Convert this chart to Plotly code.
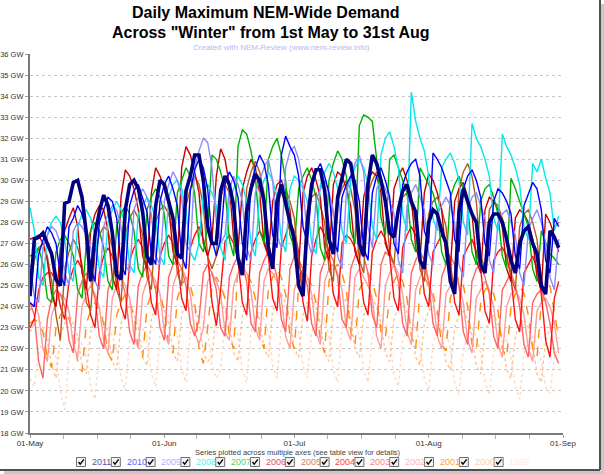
import plotly.graph_objects as go
import pandas as pd

years = ["2011", "2010", "2009", "2008", "2007", "2006", "2005", "2004", "2003", "2002", "2001", "2000", "1999"]

y2011 = [24.5,
 27.2,27.3,27.5,27.0,26.5,25.3,25.0,
 28.9,29.0,29.9,30.0,29.2,27.5,25.2,
 27.4,28.5,29.3,28.8,27.5,25.5,25.3,
 28.6,29.8,30.0,29.6,28.5,26.4,26.0,
 28.8,30.0,29.8,29.0,28.2,26.5,26.3,
 29.5,30.2,31.2,31.2,30.0,27.8,27.0,
 27.0,29.5,30.2,29.8,28.8,26.3,25.5,
 28.5,29.6,30.3,30.0,29.0,26.8,25.8,
 29.0,29.8,28.8,28.0,27.2,25.0,24.5,
 28.0,29.8,30.5,30.5,29.5,27.2,26.5,
 29.2,30.2,31.0,30.8,29.6,27.0,26.4,
 29.8,31.2,30.8,30.0,29.0,27.5,27.3,
 28.6,29.5,29.8,29.0,28.5,26.2,25.8,
 28.0,28.6,28.4,27.6,27.0,25.2,24.6,
 28.5,29.6,29.0,28.4,28.0,26.0,25.6,
 28.0,28.4,28.4,28.0,27.2,26.2,25.6,
 27.0,27.6,27.8,27.0,26.5,25.0,24.6,
 27.6,27.3,26.8]

y2010 = [24.2,24.0,
 26.5,27.2,27.8,27.5,27.0,25.5,25.0,
 27.8,28.2,28.8,28.4,27.6,25.8,25.2,
 28.0,28.6,29.2,29.0,28.2,26.0,25.5,
 28.8,29.5,29.8,29.2,28.5,26.5,26.0,
 29.0,29.8,30.2,29.6,28.8,26.4,25.8,
 29.5,30.5,31.0,30.6,29.6,27.2,26.4,
 27.2,29.8,30.4,30.0,29.2,27.0,26.2,
 29.8,30.6,31.2,30.8,29.8,27.4,26.8,
 31.2,32.1,31.6,31.2,30.2,27.8,27.0,
 29.6,30.4,30.8,30.2,29.4,27.2,26.6,
 29.2,29.8,30.2,30.0,29.0,26.8,26.2,
 29.4,30.2,30.6,30.0,29.2,27.0,26.5,
 29.8,30.4,30.8,31.0,30.2,27.6,27.0,
 31.3,31.0,30.6,30.0,29.4,27.2,26.6,
 29.6,30.2,30.5,30.0,29.2,27.0,26.4,
 29.0,29.6,29.4,29.0,28.4,26.4,25.8,
 28.8,29.4,29.9,29.6,28.6,26.2,25.6,
 28.2,27.8]

y2009 = [26.0,24.5,24.2,
 26.8,27.4,27.8,27.6,27.0,25.6,25.0,
 27.6,28.0,27.8,27.4,26.8,25.2,24.8,
 27.8,28.4,28.8,28.6,27.8,26.0,25.6,
 28.6,29.2,29.6,29.2,28.4,26.4,26.0,
 29.0,29.8,30.4,30.0,29.2,27.0,26.6,
 30.6,31.4,32.0,31.8,30.6,28.0,27.0,
 27.4,29.6,30.2,29.8,29.0,26.8,26.2,
 29.4,30.0,30.6,31.0,30.0,27.4,26.8,
 30.6,31.4,31.6,31.0,29.8,27.2,26.5,
 29.0,29.6,30.0,29.4,28.6,26.4,25.8,
 29.4,30.2,30.8,31.2,30.4,27.8,26.8,
 29.6,30.0,29.6,29.0,28.4,26.2,25.6,
 28.8,29.4,29.8,29.2,28.6,26.5,26.0,
 28.4,28.8,29.2,28.8,28.0,26.0,25.4,
 28.6,29.2,29.4,28.8,28.2,26.2,25.6,
 28.0,28.4,28.6,28.0,27.4,25.6,25.0,
 27.6,28.2,28.6,28.0,27.0,25.4,24.8,
 27.2]

y2008 = [28.7,27.6,25.4,25.0,
 27.4,28.0,28.3,28.0,27.2,25.6,25.2,
 27.8,28.4,28.6,28.2,27.4,25.8,25.4,
 28.0,28.6,29.0,28.6,27.8,26.0,25.6,
 28.4,28.8,29.2,28.8,28.2,26.4,26.0,
 29.2,29.8,30.0,29.6,28.6,26.6,26.2,
 27.0,29.4,29.8,29.4,28.8,26.8,26.2,
 29.0,29.6,30.2,29.8,29.0,27.0,26.4,
 29.4,30.0,30.4,30.0,29.2,27.2,26.6,
 29.6,30.2,30.0,29.6,29.0,27.0,26.5,
 29.8,30.4,30.8,30.4,29.6,27.6,27.0,
 30.0,30.6,31.0,30.6,29.8,27.8,27.2,
 31.2,32.0,32.3,31.6,30.6,28.4,27.6,
 34.2,32.8,32.0,31.4,30.2,28.2,27.6,
 30.6,31.0,31.3,30.8,30.0,28.0,27.4,
 32.7,32.0,31.6,31.0,30.2,28.2,27.6,
 32.2,31.6,31.2,30.6,29.8,27.8,27.2,
 30.8,30.4,31.0,30.1,29.4,27.6,28.3]

y2007 = [26.4,26.5,26.8,26.0,24.4,24.2,
 26.6,27.2,27.4,27.0,26.4,24.8,24.4,
 27.0,27.6,28.0,27.6,26.8,25.2,24.8,
 27.8,28.4,28.8,28.4,27.6,25.8,25.4,
 28.6,29.2,29.6,29.2,28.4,26.4,26.0,
 29.4,30.0,30.6,30.2,29.4,27.0,26.6,
 27.8,31.2,31.0,30.4,29.6,27.2,26.4,
 31.6,32.4,32.2,31.4,30.2,27.6,27.0,
 31.0,31.6,32.0,31.2,30.0,27.4,26.8,
 29.6,30.2,30.6,30.0,29.2,26.8,26.2,
 30.0,30.8,31.4,31.0,30.2,27.6,27.0,
 32.6,33.1,33.0,32.8,31.0,28.2,27.4,
 31.0,31.2,30.6,30.0,29.4,27.2,26.6,
 30.6,30.2,29.8,29.4,28.6,26.6,26.0,
 29.2,29.8,30.2,29.6,28.8,26.6,26.0,
 29.0,29.6,29.8,29.2,28.4,26.4,25.8,
 30.1,29.6,29.0,28.4,27.8,25.8,25.2,
 27.6,27.0,26.5,26.3,26.0]

y2006 = [27.2,27.3,27.4,27.0,26.2,24.6,24.0,
 26.8,27.6,28.2,28.7,27.8,25.6,24.8,
 27.6,28.4,28.8,28.6,27.6,25.4,24.8,
 29.2,30.5,30.2,29.6,28.6,26.4,25.8,
 29.4,30.6,30.2,29.6,28.8,26.6,26.0,
 30.6,31.6,31.2,30.4,29.4,27.0,26.4,
 27.2,30.2,31.5,31.0,29.8,27.2,26.6,
 29.6,30.4,31.0,30.6,29.4,27.0,26.4,
 29.0,29.8,30.0,29.4,28.6,26.4,25.8,
 29.4,30.2,30.6,30.0,29.2,26.8,26.2,
 29.8,30.4,30.2,29.6,28.8,26.6,26.0,
 29.2,30.0,30.4,30.2,29.4,27.0,26.4,
 29.6,30.2,30.6,30.0,29.2,26.8,26.2,
 29.4,30.3,30.0,29.4,28.6,26.4,25.8,
 29.0,29.6,29.9,29.2,28.4,26.2,25.6,
 28.6,29.2,29.0,28.6,27.8,25.8,25.2,
 28.2,28.6,28.4,28.0,27.2,25.4,24.8,
 28.4,28.0,27.4,26.6]

y2005 = [24.8,
 26.2,26.8,27.0,26.4,25.2,23.6,22.4,
 25.8,26.6,27.2,26.8,26.0,24.2,23.8,
 26.6,27.4,27.8,27.6,26.8,24.8,24.2,
 27.4,28.2,28.6,28.2,27.4,25.4,24.8,
 28.0,28.6,28.8,28.4,27.6,25.6,25.0,
 28.8,29.6,30.2,29.8,28.8,26.4,25.8,
 26.4,29.2,29.8,29.4,28.6,26.2,25.6,
 29.6,30.4,30.9,30.4,29.4,27.0,26.2,
 28.8,29.4,29.6,29.0,28.2,26.0,25.4,
 28.6,29.2,29.4,28.8,28.0,25.8,25.2,
 29.0,29.6,30.0,29.6,28.6,26.2,25.6,
 29.4,30.0,30.4,30.0,29.0,26.6,26.0,
 28.6,29.2,29.4,28.8,28.0,25.8,25.2,
 28.4,29.0,29.2,28.6,27.8,25.6,25.0,
 29.6,30.4,30.8,30.2,29.0,26.4,25.8,
 28.6,29.0,28.8,28.2,27.4,25.4,24.8,
 27.8,28.4,28.6,28.0,27.2,25.2,24.6,
 27.4,27.8,28.0]

y2004 = [23.0,23.4,
 24.8,25.4,25.6,25.6,25.2,24.0,23.4,
 25.2,25.8,26.2,25.8,25.0,23.6,23.0,
 25.6,26.4,26.8,26.4,25.6,24.0,23.4,
 26.2,26.8,27.2,26.8,26.0,24.2,23.6,
 26.4,27.0,27.4,27.0,26.2,24.4,23.8,
 26.8,27.4,27.8,27.2,26.4,24.2,23.1,
 24.8,27.1,27.4,27.0,26.2,24.2,23.6,
 26.6,27.2,27.6,27.2,26.4,24.4,23.8,
 26.8,27.4,28.0,27.6,26.6,24.2,23.3,
 26.4,27.2,27.8,27.4,26.6,24.6,24.0,
 27.0,27.4,27.2,26.8,26.0,24.2,23.6,
 26.6,27.2,27.6,27.2,26.4,24.4,23.8,
 26.8,27.4,27.8,27.4,26.6,24.6,24.0,
 26.6,27.0,27.4,27.0,26.2,24.2,23.6,
 26.4,26.8,27.2,26.6,25.8,23.8,23.2,
 26.2,26.6,26.8,26.4,25.4,23.4,22.8,
 25.6,26.0,26.4,25.8,24.6,22.4,21.6,
 24.4,25.2]

y2003 = [24.2,23.6,21.4,20.6,
 23.4,24.4,24.8,24.6,24.0,22.4,21.8,
 24.6,25.2,25.6,25.2,24.4,22.6,22.0,
 24.8,25.4,25.8,25.4,24.6,22.8,22.2,
 25.0,25.6,26.0,25.6,24.8,23.0,22.4,
 25.4,26.0,26.2,25.8,25.0,23.2,22.6,
 23.4,25.6,26.0,25.6,24.8,23.0,22.6,
 25.4,26.0,26.4,26.0,25.2,23.2,22.8,
 25.6,26.2,26.6,26.2,25.4,23.4,22.8,
 25.8,26.4,26.2,25.8,25.0,23.2,22.6,
 25.6,26.2,26.6,26.2,25.4,23.4,23.0,
 25.8,26.4,26.8,26.4,25.6,23.6,23.0,
 26.0,26.6,26.4,26.0,25.2,23.2,22.6,
 25.6,26.2,26.6,26.2,25.2,23.2,22.6,
 25.4,26.0,26.4,26.0,25.0,22.8,22.2,
 25.2,25.8,26.0,25.4,24.6,22.6,22.0,
 24.8,25.2,25.6,25.0,24.0,22.2,21.6,
 24.2,24.6,24.8,24.2,23.2,21.8,21.3]

y2002 = [23.8,24.2,23.6,22.0,21.4,
 23.6,24.2,24.6,24.4,23.8,22.2,21.6,
 24.0,24.6,25.0,24.6,24.0,22.4,21.8,
 24.4,25.0,25.4,25.0,24.4,22.6,22.0,
 24.6,25.2,25.6,25.2,24.6,22.8,22.2,
 25.0,25.6,25.8,25.4,24.6,22.8,22.2,
 23.0,25.2,25.6,25.2,24.6,22.8,22.4,
 25.0,25.6,26.0,25.6,24.8,23.0,22.4,
 25.2,25.8,25.6,25.2,24.4,22.6,22.0,
 24.8,25.4,25.8,25.4,24.6,22.8,22.2,
 25.2,25.8,26.0,25.6,24.8,23.0,22.4,
 25.4,25.8,25.4,25.0,24.4,22.6,22.0,
 25.0,25.6,26.0,25.6,24.6,22.8,22.2,
 24.8,25.4,25.8,25.2,24.4,22.6,22.0,
 24.6,25.0,25.4,25.0,24.2,22.4,21.8,
 24.4,24.8,25.2,24.8,24.0,22.2,21.6,
 24.0,24.6,24.8,24.4,23.6,22.0,21.4,
 23.8,24.2,24.4,24.0,23.2,21.8]

y2001 = [23.2,23.4,23.2,22.8,21.6,21.1,
 23.0,23.6,23.8,23.4,22.8,21.4,20.9,
 23.2,23.8,24.2,23.8,23.2,21.8,21.4,
 23.6,24.2,24.6,24.2,23.6,22.0,21.6,
 24.0,24.6,25.0,24.6,23.8,22.2,21.8,
 24.4,25.0,25.4,25.0,24.2,22.0,21.3,
 23.0,25.0,25.4,25.0,24.4,22.6,22.0,
 26.1,25.8,25.6,25.2,24.4,22.6,22.0,
 24.8,25.4,25.8,25.4,24.6,22.6,22.0,
 25.0,25.6,25.4,25.0,24.2,22.4,21.8,
 25.2,25.8,26.0,25.6,24.8,22.8,22.2,
 24.8,25.2,25.6,25.2,24.4,22.8,22.5,
 24.6,25.2,25.6,25.2,24.4,22.6,22.0,
 24.8,25.4,25.0,24.6,23.8,22.2,21.9,
 24.4,25.0,25.4,25.0,24.0,22.2,21.9,
 24.2,24.8,25.0,24.6,23.8,22.0,21.6,
 24.0,24.6,25.0,24.6,23.6,22.0,21.6,
 24.2,24.8,25.0,23.8,22.5]

y2000 = [22.8,23.2,23.4,23.0,22.4,21.2,20.6,
 22.6,23.2,23.6,23.2,22.6,21.2,20.8,
 22.8,23.4,23.8,23.4,22.8,21.4,21.0,
 23.2,23.8,24.0,23.6,23.0,21.6,21.2,
 23.4,24.0,24.2,23.8,23.2,21.8,21.4,
 23.6,24.2,24.4,24.0,23.4,21.8,21.4,
 21.6,23.8,24.2,23.8,23.2,21.8,21.4,
 23.6,24.2,24.4,24.0,23.4,22.0,21.6,
 23.8,24.4,24.6,24.2,23.4,22.0,21.6,
 23.6,24.2,24.4,24.0,23.2,21.8,21.4,
 23.8,24.4,24.6,24.2,23.4,22.0,21.6,
 23.6,24.0,24.4,24.0,23.2,21.8,21.4,
 23.4,24.0,24.2,23.8,23.0,21.6,21.2,
 23.2,23.8,24.0,23.6,22.8,21.4,21.0,
 23.0,23.6,23.8,23.4,22.6,21.2,20.8,
 22.8,23.4,23.6,23.2,22.4,21.0,20.6,
 22.6,23.2,23.4,23.0,22.2,20.8,20.4,
 22.4,23.0,23.2,22.8]

y1999 = [20.6,20.2,
 21.8,22.4,22.6,22.2,21.6,20.0,19.1,
 21.6,22.2,22.6,22.2,21.6,20.2,19.6,
 22.0,22.6,23.0,22.6,22.0,20.6,20.0,
 22.4,23.0,23.4,23.0,22.4,20.8,20.2,
 22.6,23.2,23.6,23.2,22.6,21.0,20.4,
 22.8,23.4,23.8,23.4,22.8,21.2,20.6,
 21.0,23.2,23.6,23.2,22.6,21.0,20.4,
 22.8,23.4,23.8,23.4,22.8,21.2,20.6,
 23.0,23.6,24.0,23.6,22.8,21.2,20.6,
 22.8,23.4,23.8,23.4,22.6,21.0,20.4,
 23.0,23.6,23.8,23.4,22.6,21.0,20.4,
 22.6,23.2,23.6,23.2,22.4,20.8,20.2,
 22.4,23.0,23.4,23.0,22.2,20.6,20.0,
 22.2,22.8,23.2,22.8,22.0,20.4,19.8,
 22.0,22.6,23.0,22.6,21.8,20.4,19.8,
 21.8,22.4,22.8,22.4,21.6,20.2,19.6,
 21.8,22.4,22.6,22.2,21.4,20.2,19.9,
 21.6,22.0]

series = {"2011": y2011, "2010": y2010, "2009": y2009, "2008": y2008, "2007": y2007,
          "2006": y2006, "2005": y2005, "2004": y2004, "2003": y2003, "2002": y2002,
          "2001": y2001, "2000": y2000, "1999": y1999}

line_colors = {"2011": "#000080", "2010": "#0000ff", "2009": "#8c8cff", "2008": "#00eaea",
               "2007": "#00b000", "2006": "#c80000", "2005": "#b85c1e", "2004": "#ff1010",
               "2003": "#ff6262", "2002": "#ff9c9c", "2001": "#ff8c00", "2000": "#ffc090",
               "1999": "#ffd8c0"}
legend_colors = {"2011": "#5858a8", "2010": "#6060ff", "2009": "#b0b0ff", "2008": "#60f0f0",
                 "2007": "#60d060", "2006": "#e05060", "2005": "#d08060", "2004": "#ff4040",
                 "2003": "#ff8080", "2002": "#ffb4b4", "2001": "#ffa040", "2000": "#ffd0a8",
                 "1999": "#ffeae0"}
widths = {"2011": 3.6}
dashes = {"2001": "dash", "2000": "dot", "1999": "dot"}

month_ticks = ["2011-05-01", "2011-06-01", "2011-07-01", "2011-08-01", "2011-09-01"]
month_labels = ["01-May", "01-Jun", "01-Jul", "01-Aug", "01-Sep"]

fig = go.Figure()
for yr in reversed(years):
    vals = series[yr]
    x = pd.date_range("2011-05-01", periods=len(vals), freq="D")
    fig.add_trace(go.Scatter(
        x=x, y=vals, mode="lines", name=yr,
        line=dict(color=line_colors[yr], width=widths.get(yr, 1.4),
                  dash=dashes.get(yr, "solid")),
        showlegend=False, hoverinfo="skip"))

# minor ticks at quarter months
mts = pd.to_datetime(month_ticks)
minor_vals = []
for a, b in zip(mts[:-1], mts[1:]):
    for k in (1, 2, 3):
        minor_vals.append(a + (b - a) * k / 4)

fig.update_xaxes(
    range=[pd.Timestamp("2011-05-01"), pd.Timestamp("2011-09-01")],
    automargin=False,
    tickmode="array", tickvals=list(mts), ticktext=month_labels,
    showgrid=False, zeroline=False,
    showline=True, linecolor="#7a7a7a", linewidth=2,
    ticks="outside", ticklen=3, tickcolor="#9a9a9a",
    ticklabelstandoff=-2,
    tickfont=dict(family="Liberation Sans", size=8, color="#333333"),
    minor=dict(tickmode="array", tickvals=minor_vals, ticks="outside", ticklen=4,
               tickcolor="#b0b0b0", showgrid=False),
)
fig.update_yaxes(
    range=[18, 36], dtick=1, tick0=18, ticksuffix=" GW",
    automargin=False,
    showgrid=True, gridcolor="#c8c8c8", griddash="dot", gridwidth=1,
    zeroline=False, showline=True, linecolor="#7a7a7a", linewidth=2,
    ticks="outside", ticklen=3, tickcolor="#9a9a9a",
    tickfont=dict(family="Liberation Sans", size=7.5, color="#333333"),
)

W, H = 604, 474
L, R, T, B = 30, 41, 54, 41
pw, ph = W - L - R, H - T - B

def px(xp):
    return (xp - L) / pw

def py(yp):
    return (H - B - yp) / ph

annotations = [
    dict(x=px(265), y=py(12), text="<b>Daily Maximum NEM-Wide Demand</b>", showarrow=False,
         xref="paper", yref="paper", xanchor="center", yanchor="middle",
         font=dict(family="Liberation Sans", size=16, color="#000000")),
    dict(x=px(271), y=py(32), text="<b>Across \"Winter\" from 1st May to 31st Aug</b>", showarrow=False,
         xref="paper", yref="paper", xanchor="center", yanchor="middle",
         font=dict(family="Liberation Sans", size=16, color="#000000")),
    dict(x=px(281), y=py(47), text="Created with NEM-Review (www.nem-review.info)", showarrow=False,
         xref="paper", yref="paper", xanchor="center", yanchor="middle",
         font=dict(family="Liberation Sans", size=8, color="#b8b8f0")),
    dict(x=px(298), y=py(452.5), text="Series plotted across multiple axes (see table view for details)",
         showarrow=False, xref="paper", yref="paper", xanchor="center", yanchor="middle",
         font=dict(family="Liberation Sans", size=7.5, color="#444444")),
]

shapes = []
box_x0 = 81.0
step = 34.8
for i, yr in enumerate(years):
    cx = box_x0 + i * step
    cy = 462.0
    shapes.append(dict(type="rect", xref="paper", yref="paper",
                       x0=px(cx - 4.5), x1=px(cx + 4.5), y0=py(cy + 4.5), y1=py(cy - 4.5),
                       line=dict(color="#707070", width=1), fillcolor="#f4f4f4"))
    path = "M {},{} L {},{} L {},{}".format(px(cx - 2.5), py(cy), px(cx - 0.8), py(cy + 2.2),
                                           px(cx + 2.8), py(cy - 2.6))
    shapes.append(dict(type="path", xref="paper", yref="paper", path=path,
                       line=dict(color="#000000", width=1.4)))
    annotations.append(dict(x=px(cx + 20.8), y=py(cy), text=yr, showarrow=False,
                            xref="paper", yref="paper", xanchor="center", yanchor="middle",
                            font=dict(family="Liberation Sans", size=9, color=legend_colors[yr])))

# window frame (right and bottom edges)
shapes.append(dict(type="line", xref="paper", yref="paper", x0=px(600), x1=px(600),
                   y0=py(0), y1=py(470), line=dict(color="#505050", width=2)))
shapes.append(dict(type="line", xref="paper", yref="paper", x0=px(0), x1=px(600),
                   y0=py(470), y1=py(470), line=dict(color="#505050", width=2)))
shapes.append(dict(type="rect", xref="paper", yref="paper", x0=px(601), x1=px(604),
                   y0=py(4), y1=py(474), line=dict(width=0), fillcolor="#c8c8c8"))
shapes.append(dict(type="rect", xref="paper", yref="paper", x0=px(4), x1=px(604),
                   y0=py(471), y1=py(474), line=dict(width=0), fillcolor="#c8c8c8"))

fig.update_layout(
    width=W, height=H, autosize=False,
    margin=dict(l=L, r=R, t=T, b=B),
    paper_bgcolor="white", plot_bgcolor="white",
    showlegend=False,
    annotations=annotations, shapes=shapes,
)

fig.write_html("out.html", config={"displayModeBar": False},
               post_script="document.body.style.margin='0';document.body.style.overflow='hidden';")
